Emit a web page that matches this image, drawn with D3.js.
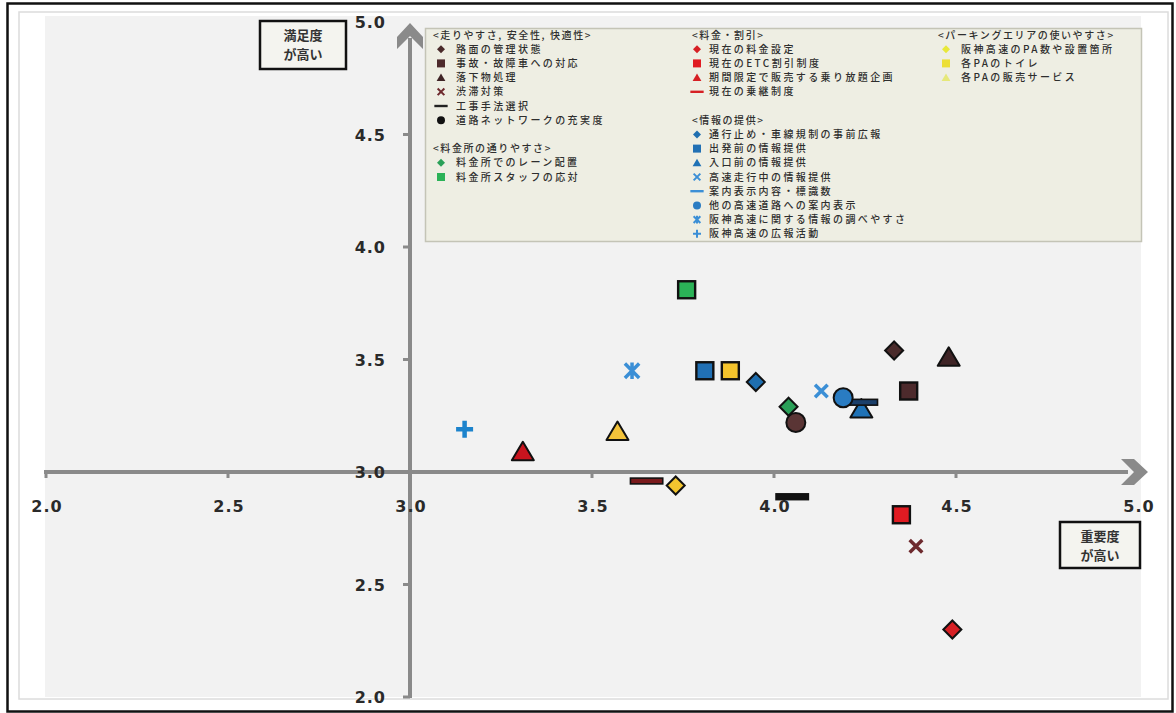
<!DOCTYPE html>
<html><head><meta charset="utf-8">
<script src="https://cdn.jsdelivr.net/npm/d3@7"></script>
<style>
html,body{margin:0;padding:0;background:#fff;}
svg{display:block;}
</style></head>
<body>
<svg id="chart" width="1176" height="713"></svg>
<script>
// ---------- data ----------
const groups = [
  "<走りやすさ, 安全性, 快適性>",
  "<料金所の通りやすさ>",
  "<料金・割引>",
  "<情報の提供>",
  "<パーキングエリアの使いやすさ>"
];
const categories = [
  "路面の管理状態","事故・故障車への対応","落下物処理","渋滞対策","工事手法選択","道路ネットワークの充実度",
  "料金所でのレーン配置","料金所スタッフの応対",
  "現在の料金設定","現在のETC割引制度","期間限定で販売する乗り放題企画","現在の乗継制度",
  "通行止め・車線規制の事前広報","出発前の情報提供","入口前の情報提供","高速走行中の情報提供","案内表示内容・標識数","他の高速道路への案内表示","阪神高速に関する情報の調べやすさ","阪神高速の広報活動",
  "阪神高速のPA数や設置箇所","各PAのトイレ","各PAの販売サービス"
];
const groupIndex = [0,0,0,0,0,0, 1,1, 2,2,2,2, 3,3,3,3,3,3,3,3, 4,4,4];
// importance (x) and satisfaction (y)
const importance   = [4.33,4.37,4.48,4.39,4.05,4.06, 4.04,3.76, 4.49,4.35,3.31,3.65, 3.95,3.81,4.24,4.13,4.24,4.19,3.61,3.15, 3.73,3.88,3.57];
const satisfaction = [3.54,3.36,3.51,2.67,2.89,3.22, 3.29,3.81, 2.30,2.81,3.09,2.96, 3.40,3.45,3.28,3.36,3.31,3.33,3.45,3.19, 2.94,3.45,3.18];
const xTicks = [2.0,2.5,3.0,3.5,4.0,4.5,5.0];
const yTicks = [2.0,2.5,3.0,3.5,4.0,4.5,5.0];
const xAxisLabel = ["重要度","が高い"];
const yAxisLabel = ["満足度","が高い"];

// ---------- styles ----------
const markerShape = ["diamond","square","triangle","x","dash","circle",
  "diamond","square",
  "diamond","square","triangle","dash",
  "diamond","square","triangle","x","dash","circle","star","plus",
  "diamond","square","triangle"];
const markerColor = ["#4a2b2b","#4d2a2c","#3f2426","#6e2a2e","#111111","#5a3535",
  "#2aa058","#2bb257",
  "#d61f24","#e01b22","#c8141e","#7a1a1c",
  "#1f6fb0","#2170b4","#1f72b6","#3b8fd6","#1b3f6a","#2a7cc2","#3b8fd6","#1c83cc",
  "#f3c52f","#f5c42c","#f2c23a"];
const legendColor = ["#4a2b2b","#4d2a2c","#3f2426","#6e2a2e","#222","#111",
  "#2aa058","#2bb257",
  "#d61f24","#e01b22","#d61f24","#d61f24",
  "#1f6fb0","#2170b4","#1f72b6","#3b8fd6","#3b8fd6","#2a7cc2","#3b8fd6","#3b8fd6",
  "#e8e83a","#ecdf36","#e6e87a"];

// ---------- layout ----------
const svg = d3.select("#chart");
const x = d3.scaleLinear().domain([2,5]).range([46,1138]);
const y = d3.scaleLinear().domain([2,5]).range([697,22]);

// frame
svg.append("rect").attr("x",7.5).attr("y",3.5).attr("width",1165).attr("height",708)
  .attr("fill","#fff").attr("stroke","#111").attr("stroke-width",2.5);
svg.append("rect").attr("x",19).attr("y",12).attr("width",1149).attr("height",687)
  .attr("fill","#fff").attr("stroke","#dcdcdc").attr("stroke-width",1.5);
svg.append("rect").attr("x",45).attr("y",16).attr("width",1096).attr("height",681)
  .attr("fill","#f2f2f2");

// legend box
const lg = svg.append("g");
lg.append("rect").attr("x",425.5).attr("y",28.5).attr("width",716).attr("height",213)
  .attr("fill","#eeeee3").attr("stroke","#c4c4b6").attr("stroke-width",1.5);

const axisColor = "#8a8a8a";
// x axis
const gx = svg.append("g");
gx.append("line").attr("x1",x(2)-2).attr("x2",1128).attr("y1",y(3)).attr("y2",y(3))
  .attr("stroke",axisColor).attr("stroke-width",4);
gx.selectAll("line.tick").data(xTicks.filter(d=>d!==3 && d!==5)).enter().append("line")
  .attr("x1",d=>x(d)).attr("x2",d=>x(d)).attr("y1",y(3)).attr("y2",y(3)+6)
  .attr("stroke",axisColor).attr("stroke-width",3);
const ax = 1148, ay = y(3);
gx.append("path").attr("d",`M${ax},${ay} L${ax-14},${ay-13} L${ax-27},${ay-13} L${ax-14},${ay} L${ax-27},${ay+13} L${ax-14},${ay+13} Z`)
  .attr("fill",axisColor);

// y axis
const gy = svg.append("g");
gy.append("line").attr("x1",x(3)).attr("x2",x(3)).attr("y1",y(2)+1).attr("y2",38)
  .attr("stroke",axisColor).attr("stroke-width",4);
gy.selectAll("line.tick").data(yTicks.filter(d=>d!==3 && d!==5)).enter().append("line")
  .attr("x1",x(3)-7).attr("x2",x(3)).attr("y1",d=>y(d)).attr("y2",d=>y(d))
  .attr("stroke",axisColor).attr("stroke-width",3);
const ux = x(3), uy = 23;
gy.append("path").attr("d",`M${ux},${uy} L${ux+13},${uy+14} L${ux+13},${uy+26} L${ux},${uy+13} L${ux-13},${uy+26} L${ux-13},${uy+14} Z`)
  .attr("fill",axisColor);

// tick labels
const numFont = "'DejaVu Sans', Verdana, sans-serif";
svg.append("g").selectAll("text").data(xTicks).enter().append("text")
  .attr("x",d=>x(d)+1).attr("y",y(3)+40)
  .attr("text-anchor","middle").attr("font-family",numFont).attr("font-weight","bold")
  .attr("font-size",16).attr("letter-spacing",1).attr("fill","#2a2a2a").text(d=>d.toFixed(1));
svg.append("g").selectAll("text").data(yTicks).enter().append("text")
  .attr("x",386).attr("y",d=>y(d)+6)
  .attr("text-anchor","end").attr("font-family",numFont).attr("font-weight","bold")
  .attr("font-size",16).attr("letter-spacing",1).attr("fill","#2a2a2a").text(d=>d.toFixed(1));

// axis label boxes
function labelBox(bx,by,bw,bh,lines){
  const g = svg.append("g");
  g.append("rect").attr("x",bx).attr("y",by).attr("width",bw).attr("height",bh)
    .attr("fill","#f4f4ef").attr("stroke","#111").attr("stroke-width",2.5);
  lines.forEach((t,i)=>{
    g.append("text").attr("x",bx+bw/2).attr("y",by+19+i*19)
      .attr("text-anchor","middle").attr("font-family","'Noto Sans CJK JP', sans-serif")
      .attr("font-weight","bold").attr("font-size",13).attr("fill","#333").text(t);
  });
}
labelBox(260,21,86,48,yAxisLabel);
labelBox(1060,522,80,46,xAxisLabel);

// ---------- markers ----------
function drawMarker(g, shape, color, s, outline){
  const sw = outline ? 2 : 0;
  const st = outline ? "#111" : "none";
  switch(shape){
    case "diamond":
      g.append("path").attr("d",`M0,${-s/2} L${s/2},0 L0,${s/2} L${-s/2},0 Z`)
        .attr("fill",color).attr("stroke",st).attr("stroke-width",sw); break;
    case "square":
      g.append("rect").attr("x",-s/2).attr("y",-s/2).attr("width",s).attr("height",s)
        .attr("fill",color).attr("stroke",st).attr("stroke-width",sw*1.2); break;
    case "triangle":
      g.append("path").attr("d",`M0,${-s*0.5} L${s*0.55},${s*0.42} L${-s*0.55},${s*0.42} Z`)
        .attr("fill",color).attr("stroke",st).attr("stroke-width",sw).attr("stroke-linejoin","round"); break;
    case "circle":
      g.append("circle").attr("r",s/2).attr("fill",color).attr("stroke",st).attr("stroke-width",sw); break;
    case "dash":
      g.append("rect").attr("x",-s*0.95).attr("y",-s*0.17).attr("width",s*1.9).attr("height",s*0.34)
        .attr("fill",color).attr("stroke",st).attr("stroke-width",sw*0.8); break;
    case "x": {
      const h = s*0.42;
      g.append("path").attr("d",`M${-h},${-h} L${h},${h} M${-h},${h} L${h},${-h}`)
        .attr("stroke",color).attr("stroke-width",outline?3.5:2); break; }
    case "star": {
      const h = s*0.42;
      g.append("path").attr("d",`M${-h},${-h} L${h},${h} M${-h},${h} L${h},${-h} M0,${-h*1.15} L0,${h*1.15}`)
        .attr("stroke",color).attr("stroke-width",outline?3.5:2); break; }
    case "plus": {
      const h = s*0.5;
      g.append("path").attr("d",`M${-h},0 L${h},0 M0,${-h} L0,${h}`)
        .attr("stroke",color).attr("stroke-width",outline?4.5:2); break; }
  }
}

const sizeFor = {diamond:18, square:17, triangle:20, circle:19, dash:17, x:15, star:17, plus:17};
const pts = svg.append("g");
categories.forEach((c,i)=>{
  const g = pts.append("g").attr("transform",`translate(${x(importance[i])},${y(satisfaction[i])})`);
  drawMarker(g, markerShape[i], markerColor[i], sizeFor[markerShape[i]], true);
});

// ---------- legend ----------
const jpFont = "'Noto Sans CJK JP', sans-serif";
const legendCols = [
  {hx:433, mx:441, tx:456, groups:[{g:0,row:0},{g:1,row:8}]},
  {hx:692, mx:697, tx:709, groups:[{g:2,row:0},{g:3,row:6}]},
  {hx:938, mx:946, tx:961, groups:[{g:4,row:0}]}
];
const rowY = r => 35 + r*14.2;
legendCols.forEach(col=>{
  col.groups.forEach(gr=>{
    lg.append("text").attr("x",col.hx).attr("y",rowY(gr.row)+3.5)
      .attr("font-family",jpFont).attr("font-size",10).attr("font-weight",500).attr("letter-spacing",1.6)
      .attr("fill","#2e2e2e").text(groups[gr.g]);
    const idx = d3.range(categories.length).filter(i=>groupIndex[i]===gr.g);
    idx.forEach((i,k)=>{
      const yy = rowY(gr.row+1+k);
      const mg = lg.append("g").attr("transform",`translate(${col.mx},${yy})`);
      drawMarker(mg, markerShape[i], legendColor[i], markerShape[i]==="dash"?7:8, false);
      lg.append("text").attr("x",col.tx).attr("y",yy+3.5)
        .attr("font-family",jpFont).attr("font-size",10).attr("font-weight",500).attr("letter-spacing",2.4)
        .attr("fill","#2e2e2e").text(categories[i]);
    });
  });
});
</script>
</body></html>
